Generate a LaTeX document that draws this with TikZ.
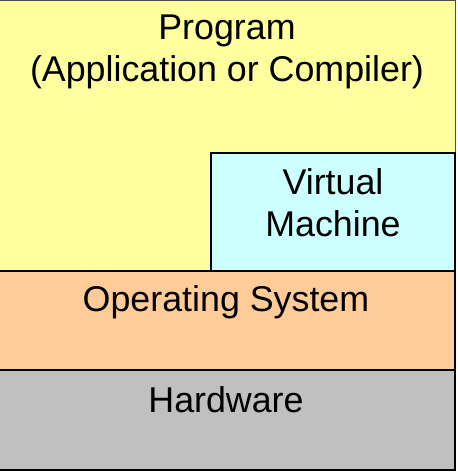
\documentclass[tikz,border=0pt]{standalone}
\usepackage{fontspec}
\setmainfont{Liberation Sans}
\definecolor{progc}{RGB}{255,255,160}
\definecolor{vmc}{RGB}{204,255,255}
\definecolor{osc}{RGB}{255,204,153}
\definecolor{hwc}{RGB}{192,192,192}
\tikzset{
  layer/.style={draw=black, line width=2pt},
  lbl/.style={font=\fontsize{35.8}{42}\selectfont, align=center, inner sep=0pt, anchor=center}
}
\begin{document}
\begin{tikzpicture}[x=1pt,y=-1pt]
\useasboundingbox (0,0) rectangle (457,473);
\fill[white] (0,0) rectangle (457,473);
\filldraw[fill=progc, draw=black!70, line width=1pt] (-2,0.5) rectangle (455,271);
\filldraw[layer, fill=vmc] (211,153) rectangle (455,271);
\filldraw[layer, fill=osc] (-2,271) rectangle (455,370);
\filldraw[layer, fill=hwc] (-2,370) rectangle (455,470);
\node[lbl] (prog) at (227,52) {Program\\(Application or Compiler)};
\node[lbl] (vm) at (333,203) {Virtual\\Machine};
\node[lbl] (os) at (226,302) {Operating System};
\node[lbl] (hw) at (226,400) {Hardware};
\end{tikzpicture}
\end{document}
